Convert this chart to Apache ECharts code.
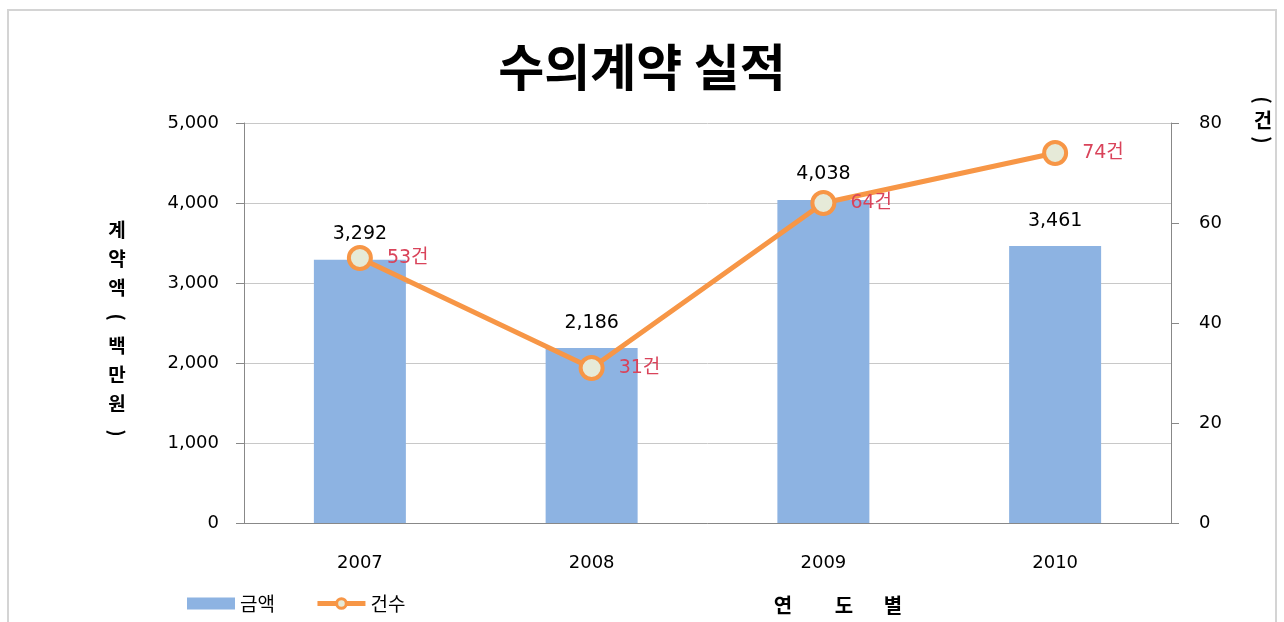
<!DOCTYPE html>
<html>
<head>
<meta charset="utf-8">
<script src="https://cdn.jsdelivr.net/npm/echarts@6/dist/echarts.min.js"></script>
<style>
  html, body { margin: 0; padding: 0; background: #fff; }
  #chart { width: 1284px; height: 622px; }
</style>
</head>
<body>
<div id="chart"></div>
<script>
// 데이터
var years = ['2007', '2008', '2009', '2010'];
var amounts = [3292, 2186, 4038, 3461];   // 계약액 (백만원)
var counts = [53, 31, 64, 74];            // 건수
var leftTicks = [0, 1000, 2000, 3000, 4000, 5000];
var rightTicks = [0, 20, 40, 60, 80];

var numFont = 'DejaVu Sans, Verdana, sans-serif';
var krFont = '"Noto Sans CJK KR", sans-serif';

// 세로쓰기 텍스트 (괄호는 90도 회전)
function vText(chars, cx, y0, step, font) {
    var out = [];
    for (var i = 0; i < chars.length; i++) {
        var ch = chars[i];
        var isParen = (ch === '(' || ch === ')');
        out.push({
            type: 'text',
            x: cx,
            y: y0 + i * step,
            rotation: isParen ? -Math.PI / 2 : 0,
            silent: true,
            style: { text: ch, font: font, fill: '#000', align: 'center', verticalAlign: 'middle' }
        });
    }
    return out;
}

var myChart = echarts.init(document.getElementById('chart'));

var graphics = [
    {
        type: 'rect',
        shape: { x: 8, y: 10, width: 1268, height: 630 },
        style: { fill: 'none', stroke: '#d4d4d4', lineWidth: 2 },
        silent: true
    }
];
graphics = graphics.concat(vText(['계', '약', '액', '(', '백', '만', '원', ')'], 117, 230, 29, 'bold 19px "Noto Sans CJK KR", sans-serif'));
graphics = graphics.concat(vText(['(', '건', ')'], 1263, 100, 20, 'bold 20px "Noto Sans CJK KR", sans-serif'));
graphics = graphics.concat([
    { type: 'text', x: 783, y: 605, silent: true, style: { text: '연', font: 'bold 20px "Noto Sans CJK KR", sans-serif', fill: '#000', align: 'center', verticalAlign: 'middle' } },
    { type: 'text', x: 844, y: 605, silent: true, style: { text: '도', font: 'bold 20px "Noto Sans CJK KR", sans-serif', fill: '#000', align: 'center', verticalAlign: 'middle' } },
    { type: 'text', x: 893, y: 605, silent: true, style: { text: '별', font: 'bold 20px "Noto Sans CJK KR", sans-serif', fill: '#000', align: 'center', verticalAlign: 'middle' } }
]);

var option = {
    animation: false,
    title: {
        text: '수의계약 실적',
        left: 'center',
        top: 37,
        textStyle: { fontFamily: krFont, fontSize: 50, fontWeight: 'bold', color: '#000' }
    },
    legend: {
        left: 182,
        top: 589,
        itemGap: 40,
        itemWidth: 48,
        itemHeight: 12,
        textStyle: { fontFamily: krFont, fontSize: 19, color: '#000' },
        data: [
            { name: '금액', icon: 'rect' },
            {
                name: '건수',
                lineStyle: { width: 5, color: '#f79646' },
                itemStyle: { color: '#e6ead8', borderColor: '#f79646', borderWidth: 3 }
            }
        ]
    },
    grid: { left: 244, right: 113, top: 123, bottom: 99 },
    xAxis: {
        type: 'category',
        data: years,
        axisLine: { lineStyle: { color: '#888', width: 1 } },
        axisTick: { length: 6, lineStyle: { color: '#888' } },
        axisLabel: { margin: 31, fontFamily: numFont, fontSize: 18, color: '#000' }
    },
    yAxis: [
        {
            type: 'value',
            min: leftTicks[0],
            max: leftTicks[leftTicks.length - 1],
            interval: 1000,
            axisLine: { show: true, lineStyle: { color: '#888' } },
            axisTick: { show: true, length: 8, lineStyle: { color: '#888' } },
            axisLabel: {
                margin: 25, fontFamily: numFont, fontSize: 18, color: '#000',
                formatter: function (v) { return v.toLocaleString('en-US'); }
            },
            splitLine: { lineStyle: { color: '#c8c8c8' } }
        },
        {
            type: 'value',
            min: rightTicks[0],
            max: rightTicks[rightTicks.length - 1],
            interval: 20,
            axisLine: { show: true, lineStyle: { color: '#888' } },
            axisTick: { show: true, length: 8, lineStyle: { color: '#888' } },
            axisLabel: { margin: 28, fontFamily: numFont, fontSize: 18, color: '#000' },
            splitLine: { show: false }
        }
    ],
    series: [
        {
            name: '금액',
            type: 'bar',
            data: amounts,
            barWidth: 92,
            itemStyle: { color: '#8db3e2' },
            label: {
                show: true,
                position: 'top',
                distance: 16,
                fontFamily: numFont,
                fontSize: 19,
                color: '#000',
                formatter: function (p) { return p.value.toLocaleString('en-US'); }
            }
        },
        {
            name: '건수',
            type: 'line',
            yAxisIndex: 1,
            data: counts,
            symbol: 'circle',
            symbolSize: 22,
            lineStyle: { color: '#f79646', width: 5 },
            itemStyle: { color: '#e6ead8', borderColor: '#f79646', borderWidth: 4 },
            label: {
                show: true,
                position: 'right',
                distance: 14,
                fontFamily: 'DejaVu Sans, "Noto Sans CJK KR", sans-serif',
                fontSize: 19,
                color: '#d9435a',
                formatter: function (p) { return p.value + '건'; }
            },
            z: 5
        }
    ],
    graphic: graphics
};

myChart.setOption(option);
</script>
</body>
</html>
